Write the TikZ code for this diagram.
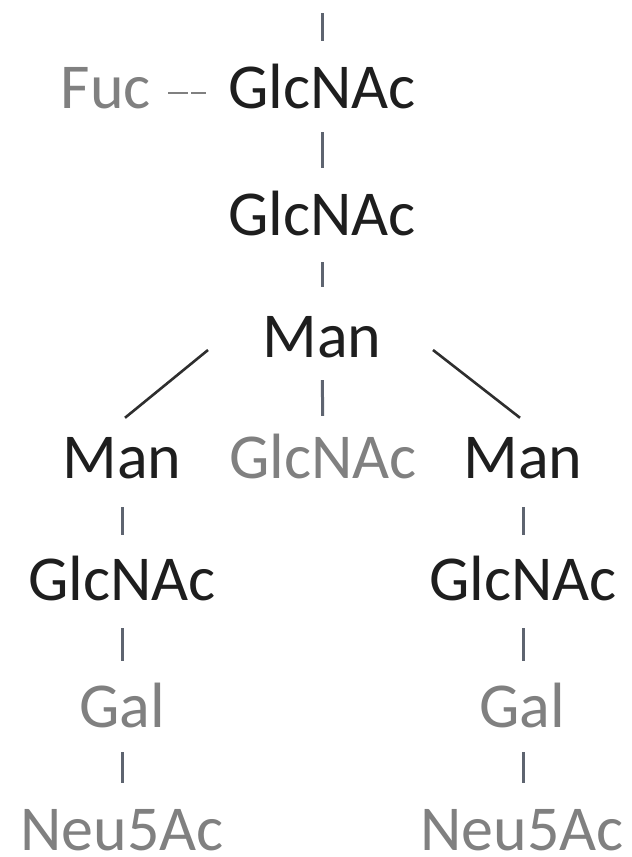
\documentclass[tikz,border=0pt]{standalone}
\usepackage{fontspec}
\setmainfont{Carlito}
\usetikzlibrary{calc}
\definecolor{inkdark}{HTML}{1E1E1E}
\definecolor{inkgray}{HTML}{808080}
\definecolor{bondgray}{HTML}{5E6470}
\definecolor{bonddark}{HTML}{2E2E2E}
\begin{document}
\begin{tikzpicture}[x=1pt,y=-1pt,
  sugar/.style={inner sep=0pt, anchor=base, text height=40pt, text depth=0pt,
    font=\fontsize{64}{70}\selectfont, text=inkdark},
  faded/.style={sugar, text=inkgray},
  bond/.style={draw=bondgray, line width=3pt},
  branch/.style={draw=bonddark, line width=2.6pt},
  fucbond/.style={draw=inkgray, line width=2.6pt, dash pattern=on 20pt off 3pt}]
\useasboundingbox (0,0) rectangle (632,857);
% core
\node[sugar] (g1) at (322,108) {GlcNAc};
\node[faded] (fuc) at (106,108) {Fuc};
\node[sugar] (g2) at (322,235) {GlcNAc};
\node[sugar] (man) at (322,357) {Man};
% branches
\node[sugar] (manL) at (122,478) {Man};
\node[faded] (gM) at (323,478) {GlcNAc};
\node[sugar] (manR) at (523,478) {Man};
\node[sugar] (gL) at (122,600) {GlcNAc};
\node[sugar] (gR) at (523,600) {GlcNAc};
\node[faded] (galL) at (122,727) {Gal};
\node[faded] (galR) at (522,727) {Gal};
\node[faded] (neuL) at (122,850) {Neu5Ac};
\node[faded] (neuR) at (522,850) {Neu5Ac};
% reducing-end stub
\coordinate (stub) at (322,13);
\draw[bond, shorten >=27pt] (stub) -- (g1.north);
% core bonds
\draw[fucbond, shorten <=17pt, shorten >=22pt]
  ($(fuc.base east)+(0,-15)$) -- ($(g1.base west)+(0,-15)$);
\draw[bond, shorten <=24pt, shorten >=27pt] (g1.south) -- (g2.north);
\draw[bond, shorten <=27pt, shorten >=30pt] (g2.south) -- (man.north);
\draw[bond, shorten <=23pt, shorten >=22pt] (man.south) -- (gM.north);
% arms
\coordinate (armL1) at ($(man.base)+(-114,-7)$);
\coordinate (armL2) at ($(manL.north)+(3,-20)$);
\coordinate (armR1) at ($(man.base)+(111,-7)$);
\coordinate (armR2) at ($(manR.north)+(-3,-20)$);
\draw[branch] (armL1) -- (armL2);
\draw[branch] (armR1) -- (armR2);
\draw[bond, shorten <=29pt, shorten >=25pt] (manL.south) -- (gL.north);
\draw[bond, shorten <=29pt, shorten >=25pt] (manR.south) -- (gR.north);
\draw[bond, shorten <=28pt, shorten >=26pt] (gL.south) -- (gL.south |- galL.north);
\draw[bond, shorten <=28pt, shorten >=26pt] (gR.south) -- (gR.south |- galR.north);
\draw[bond, shorten <=25pt, shorten >=27pt] (galL.south -| gL.south) -- (gL.south |- neuL.north);
\draw[bond, shorten <=25pt, shorten >=27pt] (galR.south -| gR.south) -- (gR.south |- neuR.north);
\end{tikzpicture}
\end{document}
